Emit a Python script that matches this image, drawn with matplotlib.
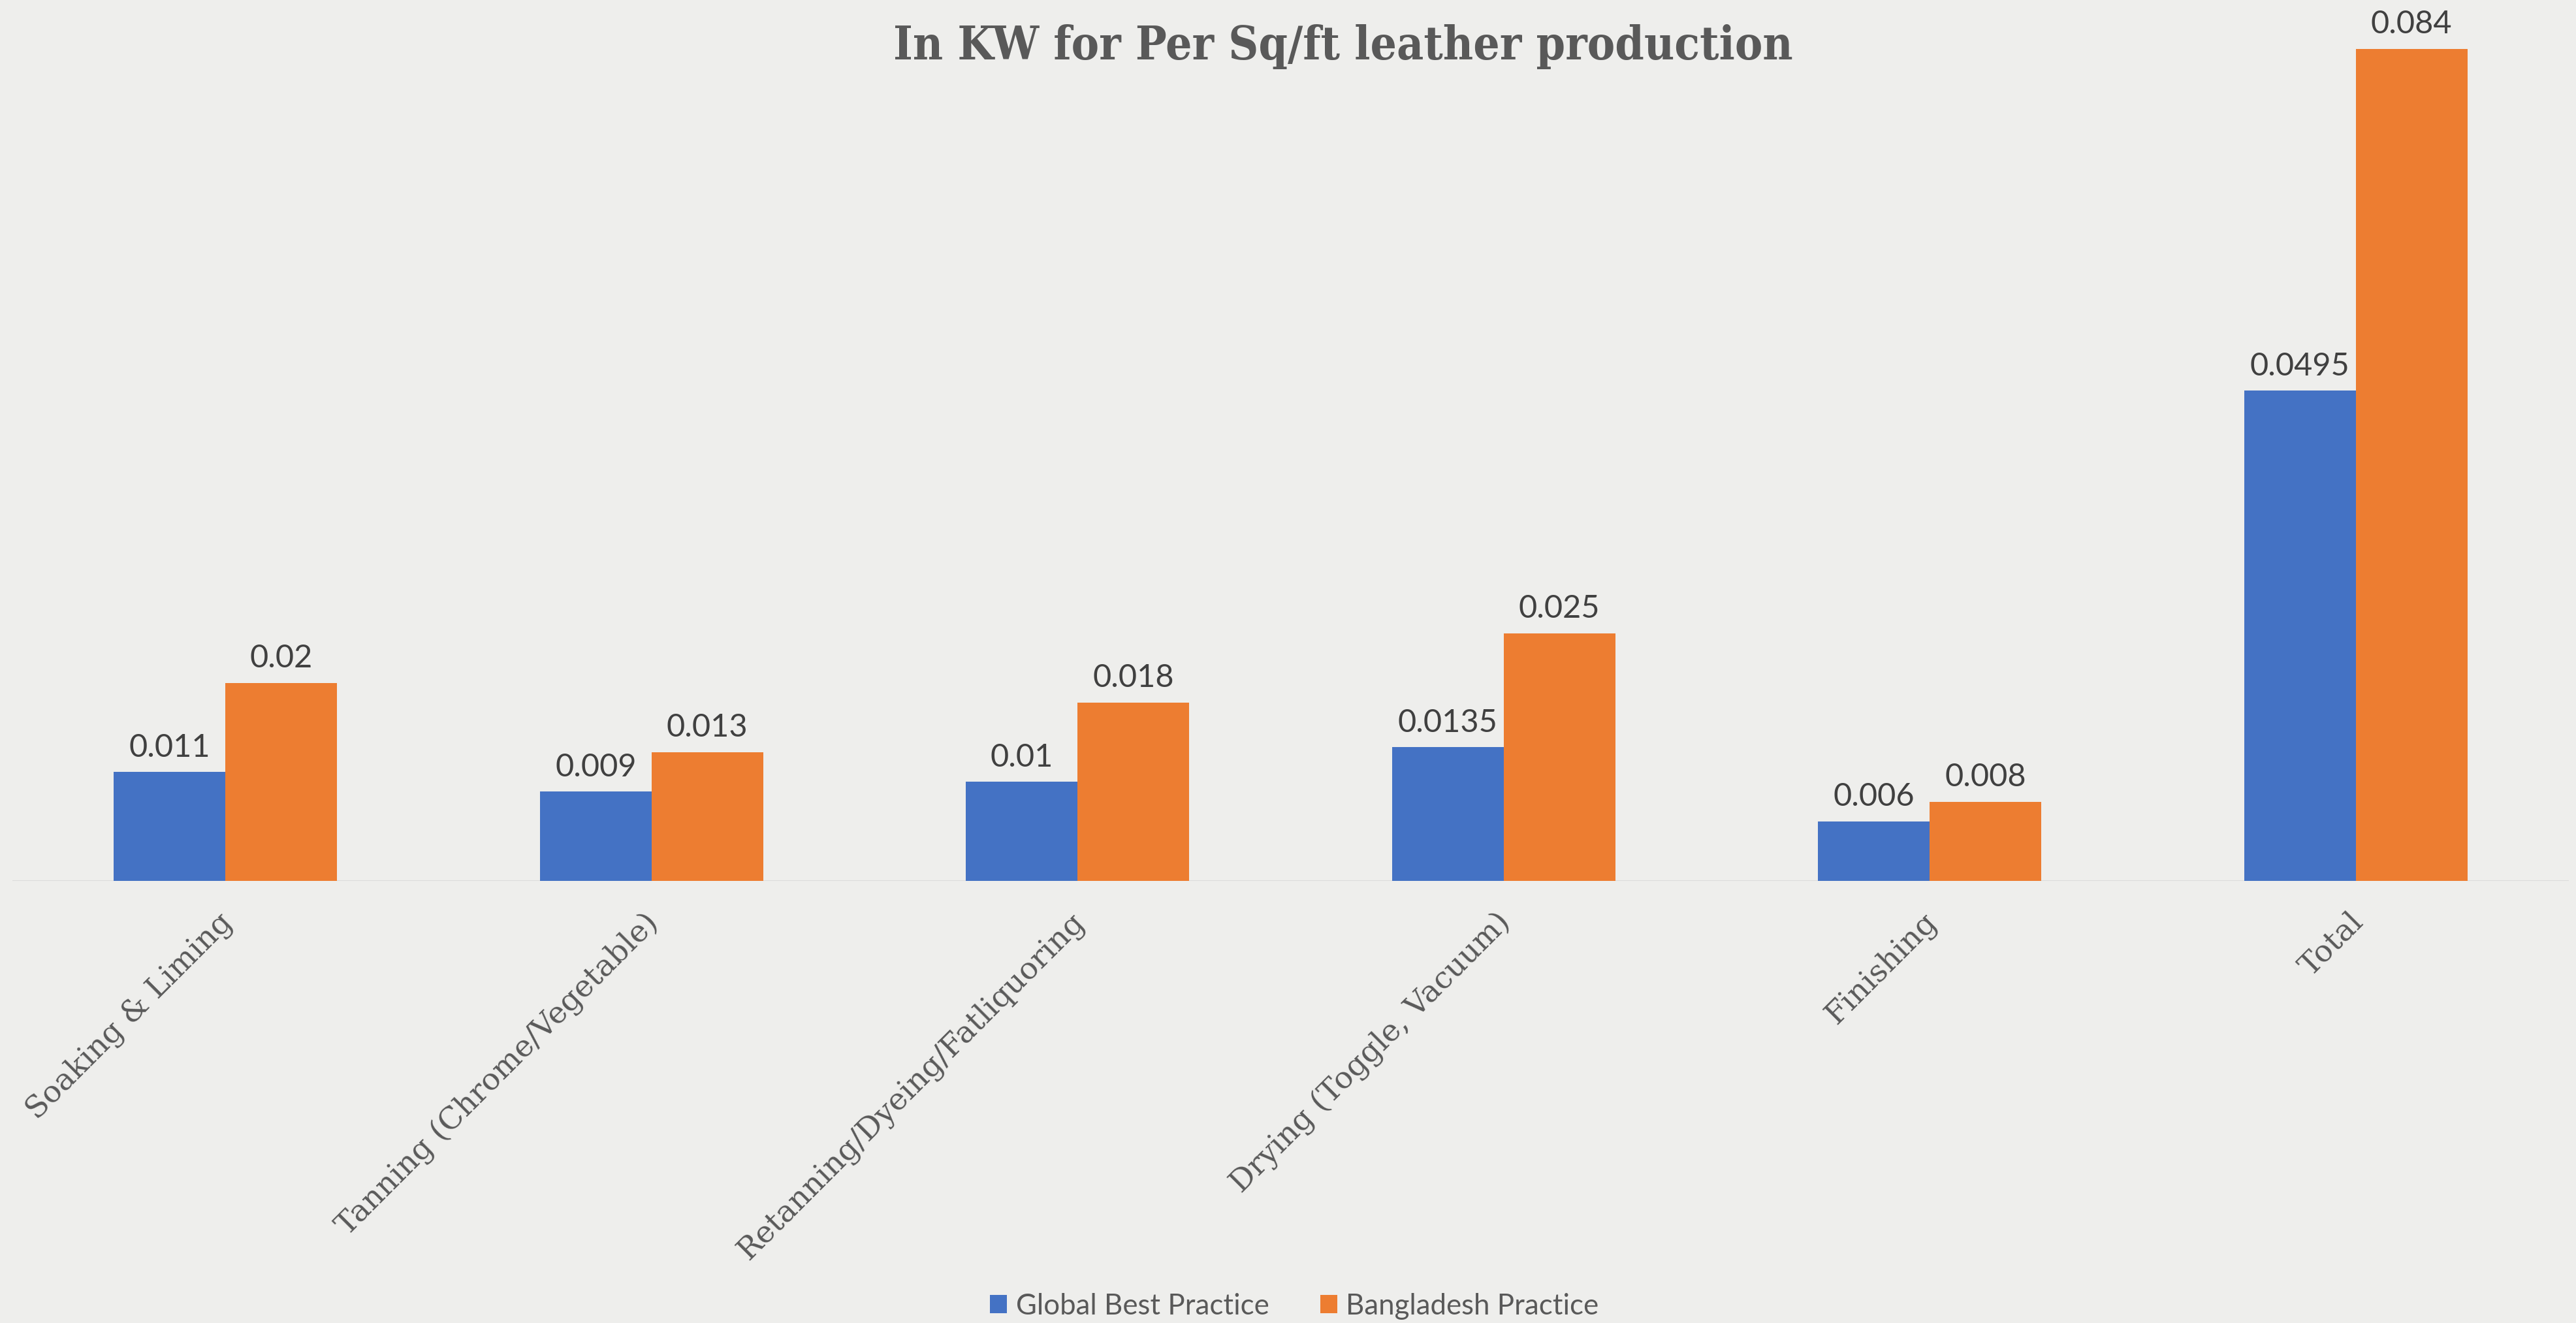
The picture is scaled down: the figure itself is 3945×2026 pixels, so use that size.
import matplotlib
matplotlib.use("Agg")
import matplotlib.pyplot as plt
import matplotlib.transforms as mtransforms
import numpy as np

categories = ["Soaking & Liming", "Tanning (Chrome/Vegetable)",
              "Retanning/Dyeing/Fatliquoring", "Drying (Toggle, Vacuum)",
              "Finishing", "Total"]
global_best = [0.011, 0.009, 0.01, 0.0135, 0.006, 0.0495]
bangladesh = [0.02, 0.013, 0.018, 0.025, 0.008, 0.084]
global_labels = ["0.011", "0.009", "0.01", "0.0135", "0.006", "0.0495"]
bangladesh_labels = ["0.02", "0.013", "0.018", "0.025", "0.008", "0.084"]
series_names = ["Global Best Practice", "Bangladesh Practice"]
title = "In KW for Per Sq/ft leather production"

W, H = 3945, 2026
DPI = 100
BG = "#EEEEEC"
BLUE = "#4472C4"
ORANGE = "#ED7D31"

fig = plt.figure(figsize=(W / DPI, H / DPI), dpi=DPI, facecolor=BG)
base_y = 1349
ymax = 0.088
px_per_unit = 15167
ax_h = ymax * px_per_unit
ax = fig.add_axes([19 / W, (H - base_y) / H, 3915 / W, ax_h / H])
ax.set_facecolor("none")

x = np.arange(len(categories))
bw = 0.262
b1 = ax.bar(x - bw / 2, global_best, bw, color=BLUE, label=series_names[0])
b2 = ax.bar(x + bw / 2, bangladesh, bw, color=ORANGE, label=series_names[1])

lab_font = dict(family="Lato", fontsize=35, color="#404040")
for bars, labs in ((b1, global_labels), (b2, bangladesh_labels)):
    for rect, lab in zip(bars, labs):
        ax.annotate(lab, (rect.get_x() + rect.get_width() / 2, rect.get_height()),
                    xytext=(0, 17), textcoords="offset points",
                    ha="center", va="baseline", **lab_font)

ax.set_xlim(-0.5, len(categories) - 0.5)
ax.set_ylim(0, ymax)
ax.axhline(0, color="#D9D9D9", lw=2, zorder=0)
for s in ax.spines.values():
    s.set_visible(False)
ax.set_yticks([])
ax.set_xticks(x)
ax.set_xticklabels(categories, rotation=45, ha="right", family="DejaVu Serif",
                   fontsize=33.5, color="#595959")
ax.tick_params(axis="x", length=0, pad=29)
shift = mtransforms.ScaledTranslation(20 / DPI, 0, fig.dpi_scale_trans)
for lbl in ax.get_xticklabels():
    lbl.set_transform(lbl.get_transform() + shift)

fig.text(2057 / W, 1 - 91 / H, title, ha="center", va="baseline",
         family="DejaVu Serif", fontweight="bold", fontstretch="condensed",
         fontsize=51, color="#595959")

fig.legend(handles=[b1, b2], labels=series_names, loc="center",
           bbox_to_anchor=(0.5025, 1 - 2000 / H), ncol=2, frameon=False,
           prop=dict(family="Lato", size=31.5), labelcolor="#595959",
           handlelength=0.6, handleheight=0.6, handletextpad=0.3,
           columnspacing=1.8)

fig.savefig("out.png", dpi=DPI, facecolor=BG)
